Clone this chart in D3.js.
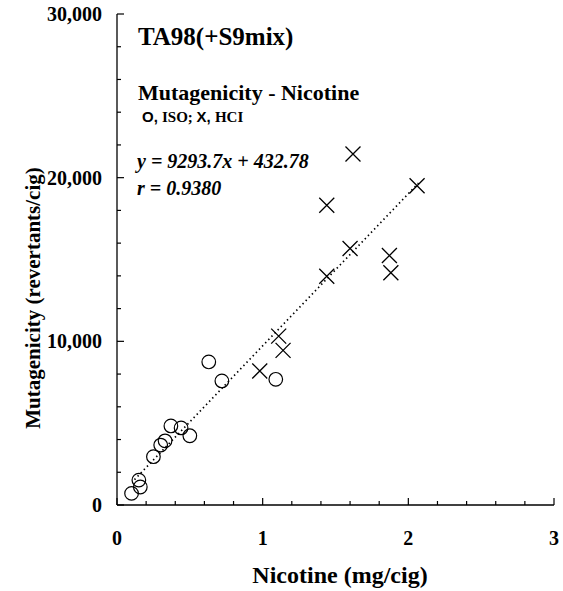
<!DOCTYPE html>
<html>
<head>
<meta charset="utf-8">
<script src="https://d3js.org/d3.v7.min.js"></script>
<style>
  body { margin: 0; background: #fff; }
  text { font-family: "Liberation Serif", "Times New Roman", serif; fill: #000; }
</style>
</head>
<body>
<div id="chart"></div>
<script>
// ISO smoking regime (circles): nicotine mg/cig, revertants/cig
var isoNicotine = [0.10, 0.16, 0.15, 0.25, 0.30, 0.33, 0.37, 0.44, 0.50, 0.63, 0.72, 1.09];
var isoMutagen  = [710, 1100, 1520, 2950, 3660, 3920, 4830, 4710, 4230, 8740, 7580, 7680];

// HCI smoking regime (crosses)
var hciNicotine = [1.11, 1.14, 0.98, 1.62, 1.44, 2.06, 1.60, 1.44, 1.87, 1.88];
var hciMutagen  = [10320, 9450, 8190, 21450, 18310, 19510, 15670, 13980, 15240, 14190];

var slope = 9293.7, intercept = 432.78;
var fitRange = [0.12, 2.07];

var xMajor = [0, 1, 2, 3];
var yMajor = [0, 10000, 20000, 30000];

var width = 563, height = 591;

var svg = d3.select("#chart").append("svg")
  .attr("width", width)
  .attr("height", height);

svg.append("rect").attr("width", width).attr("height", height).attr("fill", "#fff");

var x = d3.scaleLinear().domain([0, 3]).range([117, 554]);
var y = d3.scaleLinear().domain([0, 30000]).range([505, 14]);

// axes lines
svg.append("line")
  .attr("x1", x(0)).attr("x2", x(0))
  .attr("y1", y(30000)).attr("y2", y(0))
  .attr("stroke", "#000").attr("stroke-width", 1.3);
svg.append("line")
  .attr("x1", x(0)).attr("x2", x(3))
  .attr("y1", y(0)).attr("y2", y(0))
  .attr("stroke", "#000").attr("stroke-width", 1.3);

// y ticks (inward)
var yTicks = d3.range(0, 30001, 2000);
svg.selectAll(".ytick").data(yTicks).enter().append("line")
  .attr("x1", x(0))
  .attr("x2", function(d){ return x(0) + (d % 10000 === 0 ? 7 : 4); })
  .attr("y1", function(d){ return y(d); })
  .attr("y2", function(d){ return y(d); })
  .attr("stroke", "#000").attr("stroke-width", 1.2);

svg.selectAll(".ylab").data(yMajor).enter().append("text")
  .attr("x", 102)
  .attr("y", function(d){ return y(d) + 7; })
  .attr("text-anchor", "end")
  .attr("font-weight", "bold")
  .attr("font-size", 20)
  .text(function(d){ return d === 0 ? "0" : d3.format(",")(d); });

// x ticks (inward)
var xTicks = d3.range(0, 16).map(function(i){ return i * 0.2; });
svg.selectAll(".xtick").data(xTicks).enter().append("line")
  .attr("x1", function(d){ return x(d); })
  .attr("x2", function(d){ return x(d); })
  .attr("y1", y(0))
  .attr("y2", function(d, i){ return y(0) - (i % 5 === 0 ? 7 : 4); })
  .attr("stroke", "#000").attr("stroke-width", 1.2);

svg.selectAll(".xlab").data(xMajor).enter().append("text")
  .attr("x", function(d){ return x(d); })
  .attr("y", 545)
  .attr("text-anchor", "middle")
  .attr("font-weight", "bold")
  .attr("font-size", 20)
  .text(function(d){ return d; });

// axis titles
svg.append("text")
  .attr("x", 340).attr("y", 583)
  .attr("text-anchor", "middle")
  .attr("font-weight", "bold")
  .attr("font-size", 24)
  .text("Nicotine (mg/cig)");

svg.append("text")
  .attr("transform", "translate(40,298) rotate(-90)")
  .attr("text-anchor", "middle")
  .attr("font-weight", "bold")
  .attr("font-size", 21)
  .text("Mutagenicity (revertants/cig)");

// annotations
svg.append("text")
  .attr("x", 138).attr("y", 45)
  .attr("font-weight", "bold").attr("font-size", 25)
  .text("TA98(+S9mix)");

svg.append("text")
  .attr("x", 138).attr("y", 100)
  .attr("font-weight", "bold").attr("font-size", 22)
  .text("Mutagenicity - Nicotine");

var leg = svg.append("text")
  .attr("x", 142).attr("y", 122)
  .attr("font-size", 15);
leg.append("tspan").attr("font-family", "'Liberation Sans', Arial, sans-serif").attr("font-weight", "bold").text("O, ");
leg.append("tspan").attr("font-weight", "bold").text("ISO; ");
leg.append("tspan").attr("font-family", "'Liberation Sans', Arial, sans-serif").attr("font-weight", "bold").text("X, ");
leg.append("tspan").attr("font-weight", "bold").text("HCI");

svg.append("text")
  .attr("x", 137).attr("y", 168)
  .attr("font-weight", "bold").attr("font-style", "italic").attr("font-size", 20)
  .text("y = 9293.7x + 432.78");

svg.append("text")
  .attr("x", 137).attr("y", 195)
  .attr("font-weight", "bold").attr("font-style", "italic").attr("font-size", 20)
  .text("r = 0.9380");

// regression line (dotted)
svg.append("line")
  .attr("x1", x(fitRange[0])).attr("y1", y(slope * fitRange[0] + intercept))
  .attr("x2", x(fitRange[1])).attr("y2", y(slope * fitRange[1] + intercept))
  .attr("stroke", "#000").attr("stroke-width", 1.6)
  .attr("stroke-dasharray", "1.5,3");

// ISO circles
svg.selectAll(".iso").data(isoNicotine).enter().append("circle")
  .attr("cx", function(d){ return x(d); })
  .attr("cy", function(d, i){ return y(isoMutagen[i]); })
  .attr("r", 6.8)
  .attr("fill", "none")
  .attr("stroke", "#000").attr("stroke-width", 1.2);

// HCI crosses
var s = 7.5;
svg.selectAll(".hci").data(hciNicotine).enter().append("path")
  .attr("d", function(d, i){
    var cx = x(d), cy = y(hciMutagen[i]);
    return "M" + (cx - s) + "," + (cy - s) + "L" + (cx + s) + "," + (cy + s) +
           "M" + (cx - s) + "," + (cy + s) + "L" + (cx + s) + "," + (cy - s);
  })
  .attr("fill", "none")
  .attr("stroke", "#000").attr("stroke-width", 1.3);
</script>
</body>
</html>
